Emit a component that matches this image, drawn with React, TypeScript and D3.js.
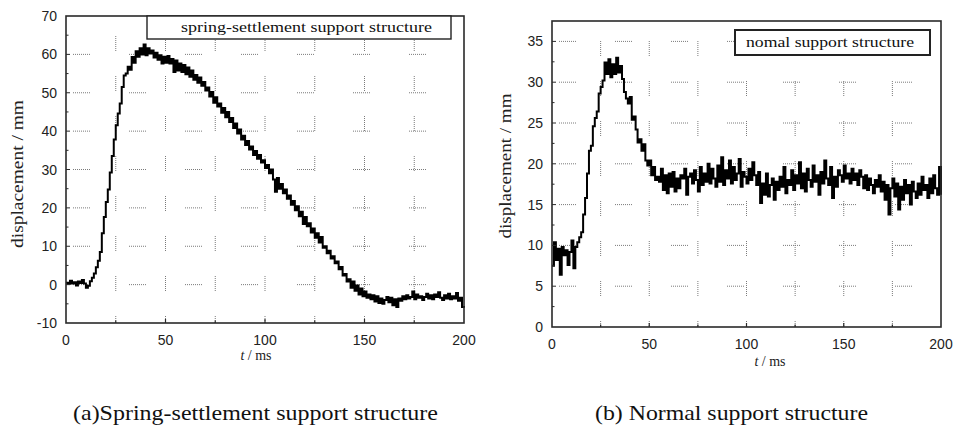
import React, { useEffect, useRef } from "react";
import * as d3 from "d3";

// ---- data ----
const xTicks = [0, 50, 100, 150, 200];
const xGrid = [25, 50, 75, 100, 125, 150, 175];
const xMinor = [25, 75, 125, 175];

const yTicksA = [-10, 0, 10, 20, 30, 40, 50, 60, 70];
const yGridA = [0, 10, 20, 30, 40, 50, 60];
const yTicksB = [0, 5, 10, 15, 20, 25, 30, 35];
const yGridB = [5, 10, 15, 20, 25, 30, 35];

// spring-settlement support structure, one value per ms (0..200)
const dispA = [
  0.5, 0.2, 1.0, 0.3, 0.6, -0.2, 0.8, 0.4, 1.2, 0.3,
  -0.8, -0.3, 0.9, 1.8, 2.9, 4.5, 6.2, 8.5, 13.4, 17.6,
  21.5, 24.8, 29.2, 33.5, 37.8, 41.5, 44.6, 47.2, 51.5, 54.5,
  55.0, 56.8, 56.0, 59.3, 57.8, 60.8, 59.4, 61.6, 60.0, 62.6,
  59.8, 61.6, 60.2, 61.0, 59.2, 60.4, 58.6, 59.8, 57.6, 59.4,
  57.8, 59.6, 57.6, 58.8, 55.4, 58.4, 55.8, 57.6, 55.4, 57.2,
  54.8, 56.6, 54.2, 55.8, 53.4, 54.6, 52.6, 54.0, 51.8, 52.8,
  50.6, 51.4, 49.0, 50.2, 47.4, 48.8, 46.4, 47.2, 44.8, 46.0,
  43.6, 45.0, 42.4, 43.4, 40.8, 42.0, 39.4, 40.4, 37.8, 38.8,
  36.4, 37.4, 35.2, 36.0, 33.8, 34.8, 32.8, 33.8, 31.8, 32.4,
  30.4, 31.2, 29.0, 30.0, 27.4, 24.2, 27.8, 25.0, 26.2, 23.8,
  24.8, 22.4, 23.2, 20.8, 21.8, 19.4, 20.4, 17.8, 19.0, 15.8,
  17.6, 15.2, 16.0, 13.6, 14.6, 12.2, 13.4, 11.0, 12.4, 9.6,
  10.0, 8.2, 8.8, 6.8, 7.4, 5.6, 6.0, 4.0, 4.6, 2.4,
  2.8, 0.8, 1.4, -0.8, 0.8, -1.6, -0.2, -2.6, -1.0, -3.0,
  -1.8, -3.4, -2.6, -3.8, -2.8, -4.4, -3.0, -4.8, -3.6, -5.0,
  -4.0, -3.2, -4.6, -3.4, -5.4, -3.8, -5.8, -3.6, -4.2, -3.0,
  -3.8, -2.8, -3.6, -3.2, -1.8, -3.8, -2.6, -3.4, -3.0, -4.0,
  -3.2, -2.4, -3.6, -2.8, -3.8, -2.6, -3.2, -2.0, -3.4, -4.0,
  -2.8, -3.6, -2.4, -3.8, -3.0, -3.6, -2.2, -4.2, -3.4, -5.8,
  -6.0,
];

// normal support structure, one value per ms (0..200)
const dispB = [
  7.5, 10.4, 8.2, 9.6, 6.4, 9.8, 8.8, 9.4, 7.6, 9.2,
  10.6, 7.2, 9.8, 10.4, 11.0, 11.6, 13.8, 15.8, 18.8, 21.6,
  22.2, 24.6, 25.6, 26.4, 28.6, 29.4, 30.2, 32.4, 31.0, 32.8,
  30.6, 32.2, 31.0, 33.0, 31.2, 32.0, 30.4, 28.8, 28.0, 27.4,
  28.2, 25.4, 25.8, 24.2, 22.6, 23.0, 21.6, 22.4, 20.4, 19.8,
  20.4, 18.6, 19.6, 18.0, 18.4, 17.8, 19.4, 16.8, 18.6, 16.4,
  18.8, 17.2, 19.0, 16.6, 18.2, 17.0, 18.6, 18.2, 19.4, 16.2,
  18.4, 18.8, 17.6, 19.2, 18.0, 16.6, 19.6, 17.4, 18.8, 17.8,
  20.0, 17.6, 19.4, 18.2, 17.2, 19.8, 17.8, 20.8, 17.4, 19.2,
  18.2, 20.4, 17.6, 19.6, 18.0, 18.8, 20.6, 17.2, 19.0, 18.4,
  17.6, 19.4, 18.0, 20.2, 18.6, 17.4, 19.0, 15.2, 17.6, 16.2,
  18.8, 16.0, 17.4, 18.2, 15.6, 17.8, 16.8, 18.4, 17.2, 19.6,
  16.4, 18.0, 17.4, 19.2, 16.8, 18.6, 17.6, 20.2, 17.0, 18.8,
  16.6, 19.4, 18.0, 17.2, 19.8, 17.8, 18.6, 16.2, 19.0, 17.6,
  20.4, 18.2, 17.4, 19.6, 15.8, 18.4, 17.2, 19.2, 18.6, 17.8,
  19.8, 18.2, 18.8, 17.6, 19.4, 18.0, 18.8, 17.4, 19.2, 18.4,
  17.0, 18.6, 16.8, 18.2, 17.4, 16.4, 18.0, 17.2, 18.6, 16.6,
  17.8, 15.6, 17.4, 13.8, 17.0, 18.2, 16.0, 17.6, 14.4, 17.2,
  15.6, 18.0, 16.4, 17.4, 15.0, 17.8, 16.6, 15.8, 17.6, 16.2,
  18.4, 16.8, 17.4, 15.8, 18.2, 16.4, 18.6, 17.0, 16.2, 19.6,
  16.2,
];

const SANS = "'Liberation Sans', Arial, sans-serif";
const SERIF = "'Liberation Serif', 'Times New Roman', serif";

type PanelOpts = {
  data: number[];
  left: number; right: number; top: number; bottom: number;
  yDomain: [number, number];
  yTicks: number[]; yGrid: number[]; yMinorStep: number;
  legend: string; legendBox: [number, number, number, number]; legendTextX: number; legendTextW: number; legendBorder: number;
  yTitlePos: [number, number]; yTitleLen: number;
  xTitlePos: [number, number];
  caption: string; captionX: number; captionW: number;
};

function drawPanel(svg: d3.Selection<SVGSVGElement, unknown, null, undefined>, o: PanelOpts) {
  const x = d3.scaleLinear().domain([0, 200]).range([o.left, o.right]);
  const y = d3.scaleLinear().domain(o.yDomain).range([o.bottom, o.top]);
  const g = svg.append("g");

  // dotted grid (sparse, like the scanned original)
  const hDash = "1 1 1 1 1 1 1 1 1 1 1 1 1 1 1 1 1 39";
  g.selectAll(".hg").data(o.yGrid).enter().append("line")
    .attr("x1", o.left).attr("x2", o.right)
    .attr("y1", d => y(d)).attr("y2", d => y(d))
    .attr("stroke", "#7a7a7a").attr("stroke-width", 1)
    .attr("stroke-dasharray", hDash).attr("stroke-dashoffset", 49);
  g.selectAll(".vg").data(xGrid).enter().append("line")
    .attr("x1", d => x(d)).attr("x2", d => x(d))
    .attr("y1", o.top).attr("y2", o.bottom)
    .attr("stroke", "#7a7a7a").attr("stroke-width", 1)
    .attr("stroke-dasharray", "1 1 1 1 1 1 1 1 1 1 1 1 1 1 1 25")
    .attr("stroke-dashoffset", 20);

  // curve
  const lineGen = d3.line<number>()
    .x((d, i) => x(i))
    .y(d => y(d))
    .curve(d3.curveStepAfter);
  g.append("path")
    .datum(o.data)
    .attr("fill", "none")
    .attr("stroke", "#000")
    .attr("stroke-width", 2)
    .attr("stroke-linejoin", "miter")
    .attr("d", lineGen);

  // frame
  g.append("rect")
    .attr("x", o.left).attr("y", o.top)
    .attr("width", o.right - o.left).attr("height", o.bottom - o.top)
    .attr("fill", "none").attr("stroke", "#2a2a2a").attr("stroke-width", 1.6);

  // inner ticks
  const yMinor = d3.range(o.yDomain[0] + o.yMinorStep, o.yDomain[1], o.yMinorStep);
  g.selectAll(".yt").data(yMinor).enter().append("line")
    .attr("x1", o.left).attr("x2", d => o.left + (o.yTicks.includes(d) ? 4 : 2.5))
    .attr("y1", d => y(d)).attr("y2", d => y(d))
    .attr("stroke", "#2a2a2a").attr("stroke-width", 1);
  g.selectAll(".xt").data(xGrid).enter().append("line")
    .attr("x1", d => x(d)).attr("x2", d => x(d))
    .attr("y1", o.bottom).attr("y2", d => o.bottom - (xMinor.includes(d) ? 2.5 : 4))
    .attr("stroke", "#2a2a2a").attr("stroke-width", 1.2);

  // tick labels
  g.selectAll(".yl").data(o.yTicks).enter().append("text")
    .attr("x", o.left - 9).attr("y", d => y(d) + 5)
    .attr("text-anchor", "end")
    .attr("font-family", SANS).attr("font-size", 14).attr("fill", "#222")
    .text(d => d);
  g.selectAll(".xl").data(xTicks).enter().append("text")
    .attr("x", d => x(d)).attr("y", o.bottom + 22)
    .attr("text-anchor", "middle")
    .attr("font-family", SANS).attr("font-size", 14).attr("fill", "#222")
    .text(d => d);

  // axis titles
  g.append("text")
    .attr("transform", `translate(${o.yTitlePos[0]},${o.yTitlePos[1]}) rotate(-90)`)
    .attr("text-anchor", "middle").attr("dy", "0.35em")
    .attr("font-family", SERIF).attr("font-size", 17).attr("fill", "#222")
    .attr("textLength", o.yTitleLen).attr("lengthAdjust", "spacingAndGlyphs")
    .text("displacement / mm");
  const xt = g.append("text")
    .attr("x", o.xTitlePos[0]).attr("y", o.xTitlePos[1])
    .attr("text-anchor", "middle")
    .attr("font-family", SERIF).attr("font-size", 14).attr("fill", "#222");
  xt.append("tspan").attr("font-style", "italic").text("t");
  xt.append("tspan").text(" / ms");

  // legend box
  const [bx, by, bw, bh] = o.legendBox;
  g.append("rect")
    .attr("x", bx).attr("y", by).attr("width", bw).attr("height", bh)
    .attr("fill", "#fff").attr("stroke", "#222").attr("stroke-width", o.legendBorder);
  g.append("text")
    .attr("x", o.legendTextX).attr("y", by + bh / 2 + 4.5)
    .attr("font-family", SERIF).attr("font-size", 15).attr("fill", "#111")
    .attr("textLength", o.legendTextW).attr("lengthAdjust", "spacingAndGlyphs")
    .text(o.legend);

  // caption
  g.append("text")
    .attr("x", o.captionX).attr("y", 420)
    .attr("font-family", SERIF).attr("font-size", 21).attr("fill", "#111")
    .attr("textLength", o.captionW).attr("lengthAdjust", "spacingAndGlyphs")
    .text(o.caption);
}

export default function App() {
  const svgRef = useRef<SVGSVGElement>(null);

  useEffect(() => {
    const svg = d3.select(svgRef.current!);
    svg.selectAll("*").remove();

    drawPanel(svg, {
      data: dispA,
      left: 66, right: 464, top: 16, bottom: 323,
      yDomain: [-10, 70], yTicks: yTicksA, yGrid: yGridA, yMinorStep: 5,
      legend: "spring-settlement support structure",
      legendBox: [147, 16, 304, 23], legendTextX: 181, legendTextW: 251, legendBorder: 1.4,
      yTitlePos: [17, 174], yTitleLen: 148,
      xTitlePos: [256, 360],
      caption: "(a)Spring-settlement support structure", captionX: 73, captionW: 365,
    });

    drawPanel(svg, {
      data: dispB,
      left: 552, right: 941, top: 21, bottom: 327,
      yDomain: [0, 37.5], yTicks: yTicksB, yGrid: yGridB, yMinorStep: 2.5,
      legend: "nomal support structure",
      legendBox: [735, 30, 195, 25], legendTextX: 746, legendTextW: 168, legendBorder: 2,
      yTitlePos: [505, 166], yTitleLen: 145,
      xTitlePos: [770, 366],
      caption: "(b) Normal support structure", captionX: 595, captionW: 273,
    });
  }, []);

  return (
    <svg
      ref={svgRef}
      width={954}
      height={429}
      style={{ position: "absolute", left: 0, top: 0, background: "#fff" }}
    />
  );
}
